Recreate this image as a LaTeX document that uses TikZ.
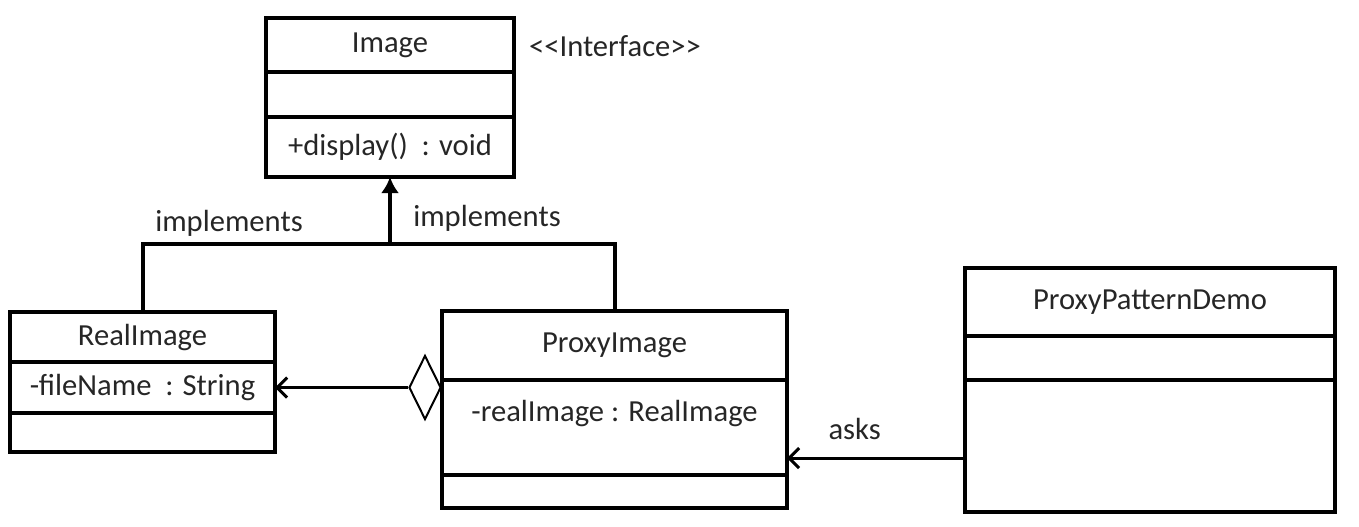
\documentclass[tikz,border=0pt]{standalone}
\usepackage{fontspec}
\setmainfont{Carlito}
\usetikzlibrary{arrows.meta,positioning,shapes.geometric}

\begin{document}
\begin{tikzpicture}[
  x=0.5pt,y=-0.5pt,
  line cap=butt,
  line join=miter,
  font=\fontsize{15.3}{18}\selectfont,
  part/.style={draw,line width=2pt,inner sep=0pt,outer sep=0pt,
    text=black!85},
  implline/.style={line width=2pt},
  assoc/.style={line width=1.5pt},
  aggr/.style={diamond,draw,fill=white,line width=1pt,inner sep=0pt,
    minimum width=16pt,minimum height=32pt}
]
\useasboundingbox (0,0) rectangle (1359,526);

% ------------------------------------------------------------------
% Image (interface)
% ------------------------------------------------------------------
\node[part,minimum width=124pt,minimum height=27pt] (imgtitle) at (390,45) {Image};
\node[part,minimum width=124pt,minimum height=22.5pt,below=0pt of imgtitle] (imgfld) {};
\node[part,minimum width=124pt,minimum height=30pt,below=0pt of imgfld] (imgmeth)
  {+display()\ \ : void};
\node[anchor=west,text=black!85] (stereo) at (522,46) {{<}{<}Interface{>}{>}};

% ------------------------------------------------------------------
% RealImage
% ------------------------------------------------------------------
\node[part,minimum width=132.5pt,minimum height=25pt] (realtitle) at (142.5,337) {RealImage};
\node[part,minimum width=132.5pt,minimum height=25.5pt,below=0pt of realtitle] (realfld)
  {-fileName\ \ : String};
\node[part,minimum width=132.5pt,minimum height=19.5pt,below=0pt of realfld] (realmeth) {};

% ------------------------------------------------------------------
% ProxyImage
% ------------------------------------------------------------------
\node[part,minimum width=172.5pt,minimum height=34.5pt] (proxytitle) at (614.5,345.5) {ProxyImage};
\node[part,minimum width=172.5pt,inner sep=0pt,text height=20.5pt,text depth=27pt,
  below=0pt of proxytitle] (proxyfld) {-realImage : RealImage};
\node[part,minimum width=172.5pt,minimum height=16.5pt,below=0pt of proxyfld] (proxymeth) {};

% ------------------------------------------------------------------
% ProxyPatternDemo
% ------------------------------------------------------------------
\node[part,minimum width=185pt,minimum height=34pt] (demotitle) at (1150,302) {ProxyPatternDemo};
\node[part,minimum width=185pt,minimum height=22pt,below=0pt of demotitle] (demofld) {};
\node[part,minimum width=185pt,minimum height=66pt,below=0pt of demofld] (demometh) {};

% ------------------------------------------------------------------
% Relations
% ------------------------------------------------------------------
\coordinate (join) at (390,244);
\draw[implline] (realtitle.north) |- (join) -| (proxytitle.north);
\draw[implline,-{Latex[length=8pt,width=9pt]}] (join) -- (imgmeth.south);
\node[text=black!85] (implleft) at (229,223) {implements};
\node[text=black!85] (implright) at (487,218) {implements};

% aggregation ProxyImage -> RealImage
\node[aggr,anchor=east] (agg) at (proxyfld.west |- realfld.east) {};
\draw[assoc,-{Straight Barb[length=5pt,width=10pt,line width=1.5pt]}]
  (agg.west) -- (realfld.east);

% demo asks proxy
\draw[assoc,-{Straight Barb[length=5pt,width=10pt,line width=1.5pt]}]
  ([yshift=-6pt]demometh.west) -- ([yshift=-6pt]demometh.west -| proxyfld.east)
  node[pos=0.62,above=5pt,text=black!85] (asks) {asks};

\end{tikzpicture}
\end{document}
